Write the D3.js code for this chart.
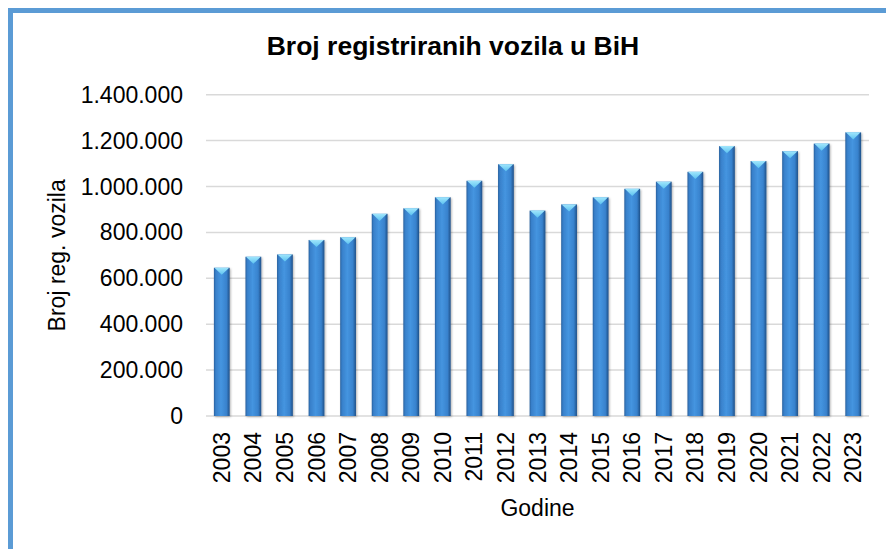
<!DOCTYPE html>
<html>
<head>
<meta charset="utf-8">
<script src="https://cdn.jsdelivr.net/npm/d3@7"></script>
<style>
  html, body { margin: 0; padding: 0; background: #fff; }
  svg { display: block; font-family: "Liberation Sans", Arial, sans-serif; }
</style>
</head>
<body>
<div id="viz"></div>
<script>
// Registered vehicles in BiH, per year
const years = ["2003","2004","2005","2006","2007","2008","2009","2010","2011","2012",
  "2013","2014","2015","2016","2017","2018","2019","2020","2021","2022","2023"];
const vehicles = [646000, 694000, 704000, 767000, 779000, 881000, 905000, 953000, 1025000, 1097000,
  895000, 922000, 953000, 990000, 1021000, 1064000, 1176000, 1111000, 1154000, 1187000, 1236000];
const yTicks = [0, 200000, 400000, 600000, 800000, 1000000, 1200000, 1400000];

const WIDTH = 886, HEIGHT = 549;
const MARGIN = {top: 94.7, right: 17, bottom: 133, left: 206};

const svg = d3.select("#viz").append("svg")
  .attr("width", WIDTH)
  .attr("height", HEIGHT);

const defs = svg.append("defs");
const barGrad = defs.append("linearGradient")
  .attr("id", "barGrad")
  .attr("x1", "0").attr("x2", "1").attr("y1", "0").attr("y2", "0");
[["0%", "#28609e"], ["12%", "#3880ca"], ["45%", "#4595e0"], ["80%", "#3882cd"], ["100%", "#1f5088"]]
  .forEach(([o, c]) => barGrad.append("stop").attr("offset", o).attr("stop-color", c));

const capGrad = defs.append("linearGradient")
  .attr("id", "capGrad")
  .attr("x1", "0").attr("x2", "0").attr("y1", "0").attr("y2", "1");
[["0%", "#a0e6fc"], ["100%", "#5cc2f0"]]
  .forEach(([o, c]) => capGrad.append("stop").attr("offset", o).attr("stop-color", c));

const shadow = defs.append("filter").attr("id", "shadow")
  .attr("x", "-30%").attr("y", "-10%").attr("width", "160%").attr("height", "130%");
shadow.append("feDropShadow")
  .attr("dx", 1).attr("dy", 1).attr("stdDeviation", 1.2)
  .attr("flood-color", "#000").attr("flood-opacity", 0.3);

// outer chart frame (only top and left edges are inside the picture)
svg.append("path")
  .attr("d", `M10.5,${HEIGHT} V10.5 H${WIDTH}`)
  .attr("fill", "none")
  .attr("stroke", "#5b9bd5")
  .attr("stroke-width", 5);

const innerWidth = WIDTH - MARGIN.left - MARGIN.right;
const innerHeight = 416 - MARGIN.top;

// scales in page coordinates
const x = d3.scaleBand()
  .domain(years)
  .range([MARGIN.left, MARGIN.left + innerWidth])
  .paddingInner(0.5)
  .paddingOuter(0.25);

const y = d3.scaleLinear()
  .domain([0, 1400000])
  .range([MARGIN.top + innerHeight, MARGIN.top]);

// gridlines
svg.append("g")
  .selectAll("line")
  .data(yTicks)
  .join("line")
  .attr("x1", MARGIN.left)
  .attr("x2", MARGIN.left + innerWidth)
  .attr("y1", d => y(d))
  .attr("y2", d => y(d))
  .attr("stroke", "#d9d9d9")
  .attr("stroke-width", 1.5);

// bars
const bars = svg.append("g")
  .selectAll("g")
  .data(years.map((yr, i) => ({year: yr, value: vehicles[i]})))
  .join("g");

bars.append("rect")
  .attr("x", d => x(d.year))
  .attr("y", d => y(d.value))
  .attr("width", x.bandwidth())
  .attr("height", d => y(0) - y(d.value))
  .attr("fill", "url(#barGrad)")
  .attr("filter", "url(#shadow)");

bars.append("polygon")
  .attr("points", d => {
    const x0 = x(d.year), w = x.bandwidth(), t = y(d.value);
    return [[x0 + 0.5, t], [x0 + w - 0.5, t], [x0 + w / 2, t + w * 0.45]].join(" ");
  })
  .attr("fill", "url(#capGrad)");

// y tick labels
const fmt = d => d3.format(",d")(d).replace(/,/g, ".");
svg.append("g")
  .selectAll("text")
  .data(yTicks)
  .join("text")
  .attr("x", MARGIN.left - 23)
  .attr("y", d => y(d))
  .attr("dy", "0.35em")
  .attr("text-anchor", "end")
  .style("font-size", "23px")
  .attr("fill", "#000")
  .text(fmt);

// x tick labels (rotated)
const labelTop = y(0) + 16;
svg.append("g")
  .selectAll("text")
  .data(years)
  .join("text")
  .attr("x", d => x(d) + x.bandwidth() / 2)
  .attr("y", labelTop)
  .attr("transform", d => `rotate(-90,${x(d) + x.bandwidth() / 2},${labelTop})`)
  .attr("text-anchor", "end")
  .attr("dy", "0.35em")
  .style("font-size", "23px")
  .attr("fill", "#000")
  .text(d => d);

// title
svg.append("text")
  .attr("x", 453)
  .attr("y", 55)
  .attr("text-anchor", "middle")
  .style("font-size", "26.5px")
  .style("font-weight", "bold")
  .attr("fill", "#000")
  .text("Broj registriranih vozila u BiH");

// axis titles
svg.append("text")
  .attr("x", MARGIN.left + innerWidth / 2)
  .attr("y", 516)
  .attr("text-anchor", "middle")
  .style("font-size", "23px")
  .attr("fill", "#000")
  .text("Godine");

const yTitleY = MARGIN.top + innerHeight / 2;
svg.append("text")
  .attr("x", 65)
  .attr("y", yTitleY)
  .attr("transform", `rotate(-90,65,${yTitleY})`)
  .attr("text-anchor", "middle")
  .style("font-size", "23px")
  .attr("fill", "#000")
  .text("Broj reg. vozila");
</script>
</body>
</html>
